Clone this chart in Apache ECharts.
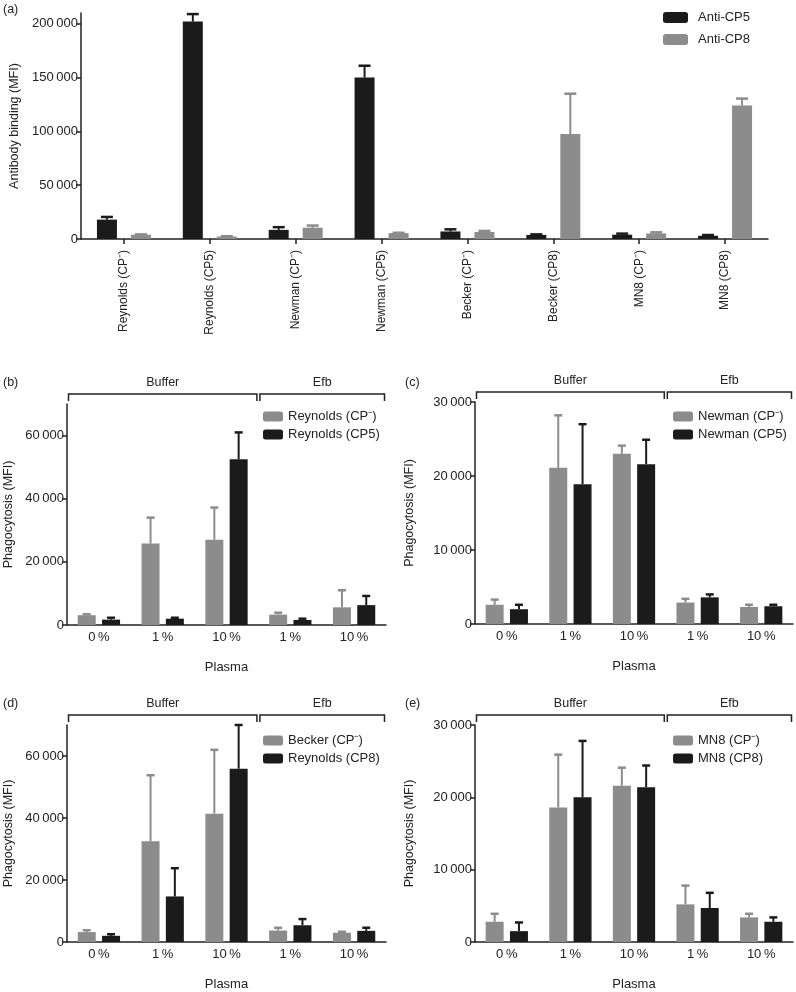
<!DOCTYPE html>
<html><head><meta charset="utf-8">
<script src="https://cdn.jsdelivr.net/npm/echarts@6/dist/echarts.min.js"></script>
<style>html,body{margin:0;padding:0;background:#fff}#c{width:796px;height:992px}</style>
</head><body><div id="c"></div>
<script>
// ---------- DATA ----------
const strainCats = ['Reynolds (CP\u207B)','Reynolds (CP5)','Newman (CP\u207B)','Newman (CP5)','Becker (CP\u207B)','Becker (CP8)','MN8 (CP\u207B)','MN8 (CP8)'];
const antiCP5    = [18000, 202000, 8500, 150000, 7000, 3800, 4000, 3000];
const antiCP5Err = [20500, 209000, 11000, 161000, 9000, 4300, 5000, 3700];
const antiCP8    = [4000, 2300, 10500, 5500, 6500, 97500, 5200, 124000];
const antiCP8Err = [4300, 2600, 12500, 5800, 7500, 135000, 6200, 130500];
const aTicks = [0, 50000, 100000, 150000, 200000];

const plasmaCats = ['0\u2009%','1\u2009%','10\u2009%','1\u2009%','10\u2009%'];
const groupNames = ['Buffer','Efb'];
const groupSpans = [[0,2],[3,4]];

const reynoldsCPneg    = [3100, 25800, 27000, 3300, 5600];
const reynoldsCPnegErr = [3400, 34000, 37200, 3900, 11000];
const reynoldsCP5      = [1700, 2000, 52500, 1600, 6300];
const reynoldsCP5Err   = [2300, 2300, 61000, 2000, 9200];
const bTicks = [0, 20000, 40000, 60000];

const newmanCPneg    = [2600, 21100, 23000, 2900, 2300];
const newmanCPnegErr = [3300, 28200, 24100, 3400, 2600];
const newmanCP5      = [2000, 18900, 21600, 3600, 2400];
const newmanCP5Err   = [2600, 27000, 24900, 4000, 2600];
const cTicks = [0, 10000, 20000, 30000];

const beckerCPneg    = [3200, 32500, 41400, 3700, 3000];
const beckerCPnegErr = [3800, 53800, 62000, 4600, 3300];
const reynoldsCP8    = [2000, 14700, 55900, 5400, 3600];
const reynoldsCP8Err = [2500, 23800, 70000, 7400, 4600];
const dTicks = [0, 20000, 40000, 60000];

const mn8CPneg    = [2800, 18600, 21600, 5200, 3400];
const mn8CPnegErr = [3900, 25900, 24100, 7800, 3900];
const mn8CP8      = [1500, 20000, 21400, 4700, 2800];
const mn8CP8Err   = [2700, 27800, 24400, 6800, 3400];
const eTicks = [0, 10000, 20000, 30000];

// ---------- STYLE ----------
const FONT = '"Liberation Sans", Arial, Helvetica, sans-serif';
const BLACK = '#1b1b1b', GRAY = '#8c8c8c', AXIS = '#222';

function fmt(v){ return v === 0 ? '0' : String(v).replace(/\B(?=(\d{3})+(?!\d))/g, '\u2009'); }

const chart = echarts.init(document.getElementById('c'), null, {renderer:'canvas'});

const grids = [
  {left:77, top:13, width:691, height:226},
  {left:67, top:404, width:319, height:221},
  {left:475, top:402, width:318, height:222},
  {left:67, top:725, width:319, height:222},
  {left:475, top:725, width:318, height:223}
];

function yAxis(gi, max, ticks, gap){
  return {type:'value', gridIndex:gi, min:0, max:max,
    name:(gi===0?'Antibody binding (MFI)':'Phagocytosis (MFI)'), nameLocation:'middle', nameGap:gap,
    nameTextStyle:{fontFamily:FONT, fontSize:12.5, color:'#222'},
    splitLine:{show:false},
    axisLine:{show:true, lineStyle:{color:AXIS, width:1.5}},
    axisTick:{show:true, length:5, lineStyle:{color:AXIS, width:1.5}, customValues:ticks},
    axisLabel:{fontFamily:FONT, fontSize:13, color:'#222', margin:3, customValues:ticks, formatter:fmt}
  };
}
function xAxisP(gi){
  return {type:'category', gridIndex:gi, data:plasmaCats,
    name:'Plasma', nameLocation:'middle', nameGap:36,
    nameTextStyle:{fontFamily:FONT, fontSize:13, color:'#222'},
    axisLine:{lineStyle:{color:AXIS, width:1.5}},
    axisTick:{show:false},
    axisLabel:{fontFamily:FONT, fontSize:13, color:'#222', margin:6}
  };
}

const xAxes = [
  {type:'category', gridIndex:0, data:strainCats,
   axisLine:{lineStyle:{color:AXIS, width:1.5}},
   axisTick:{show:true, alignWithLabel:true, length:5, lineStyle:{color:AXIS, width:1.5}},
   axisLabel:{fontFamily:FONT, fontSize:12, color:'#222', rotate:90, margin:11}},
  xAxisP(1), xAxisP(2), xAxisP(3), xAxisP(4)
];
const yAxes = [
  yAxis(0, 210000, aTicks, 60),
  yAxis(1, 70000, bTicks, 52),
  yAxis(2, 30000, cTicks, 59),
  yAxis(3, 70000, dTicks, 52),
  yAxis(4, 30000, eTicks, 59)
];

const series = [];
function barPair(gi, n1, v1, e1, c1, n2, v2, e2, c2, bw, gapFrac, capW){
  series.push({type:'bar', name:n1, xAxisIndex:gi, yAxisIndex:gi, data:v1, barWidth:bw, barGap:(gapFrac*100)+'%', itemStyle:{color:c1}});
  series.push({type:'bar', name:n2, xAxisIndex:gi, yAxisIndex:gi, data:v2, barWidth:bw, barGap:(gapFrac*100)+'%', itemStyle:{color:c2}});
  const half = bw*(1+gapFrac)/2;
  [[v1,e1,c1,-half],[v2,e2,c2,half]].forEach(function(s){
    series.push({type:'custom', xAxisIndex:gi, yAxisIndex:gi, clip:false, z:3,
      data:s[0].map(function(v,i){return [i, v, s[1][i]];}),
      encode:{x:0, y:[1,2]},
      renderItem:function(params, api){
        const i = api.value(0);
        const p0 = api.coord([i, api.value(1)]);
        const p1 = api.coord([i, api.value(2)]);
        const x = p0[0] + s[3];
        return {type:'group', children:[
          {type:'line', shape:{x1:x, y1:p0[1], x2:x, y2:p1[1]}, style:{stroke:s[2], lineWidth:2}},
          {type:'line', shape:{x1:x-capW/2, y1:p1[1], x2:x+capW/2, y2:p1[1]}, style:{stroke:s[2], lineWidth:2.5}}
        ]};
      }
    });
  });
}
function brackets(gi){
  series.push({type:'custom', xAxisIndex:gi, yAxisIndex:gi, clip:false, silent:true,
    data:groupSpans.map(function(g){return [g[0], g[1], 0];}),
    encode:{x:[0,1], y:2},
    renderItem:function(params, api){
      const cs = params.coordSys;
      const band = api.size([1,0])[0];
      const a = api.coord([api.value(0),0])[0] - band/2 + 1.5;
      const b = api.coord([api.value(1),0])[0] + band/2 - 1.5;
      const y = cs.y - 10;
      return {type:'group', children:[
        {type:'polyline', shape:{points:[[a,y+7],[a,y],[b,y],[b,y+7]]}, style:{stroke:AXIS, lineWidth:1.5, fill:null}},
        {type:'text', style:{x:(a+b)/2, y:cs.y-21, text:groupNames[params.dataIndex], align:'center', verticalAlign:'middle', fontFamily:FONT, fontSize:12.5, fill:'#222'}}
      ]};
    }
  });
}

barPair(0, 'Anti-CP5', antiCP5, antiCP5Err, BLACK, 'Anti-CP8', antiCP8, antiCP8Err, GRAY, 20, 0.7, 12);
barPair(1, 'Reynolds (CP\u207B)', reynoldsCPneg, reynoldsCPnegErr, GRAY, 'Reynolds (CP5)', reynoldsCP5, reynoldsCP5Err, BLACK, 18, 0.35, 8);
barPair(2, 'Newman (CP\u207B)', newmanCPneg, newmanCPnegErr, GRAY, 'Newman (CP5)', newmanCP5, newmanCP5Err, BLACK, 18, 0.35, 8);
barPair(3, 'Becker (CP\u207B)', beckerCPneg, beckerCPnegErr, GRAY, 'Reynolds (CP8)', reynoldsCP8, reynoldsCP8Err, BLACK, 18, 0.35, 8);
barPair(4, 'MN8 (CP\u207B)', mn8CPneg, mn8CPnegErr, GRAY, 'MN8 (CP8)', mn8CP8, mn8CP8Err, BLACK, 18, 0.35, 8);
[1,2,3,4].forEach(brackets);

function legend(names, left, top, w, h, gap, padLeft){
  return {orient:'vertical', left:left, top:top, padding:0, itemWidth:w, itemHeight:h, itemGap:gap,
    icon:'roundRect', data:names, selectedMode:false,
    textStyle:{fontFamily:FONT, fontSize:13, color:'#222', padding:[0,0,0,padLeft]}};
}

const titles = [['(a)',3,3],['(b)',3,376],['(c)',405,376],['(d)',3,697],['(e)',405,697]].map(function(t){
  return {text:t[0], left:t[1], top:t[2], padding:0, textStyle:{fontFamily:FONT, fontSize:12.5, fontWeight:'normal', color:'#222'}};
});

chart.setOption({
  animation:false,
  backgroundColor:'#fff',
  title:titles,
  grid:grids,
  xAxis:xAxes,
  yAxis:yAxes,
  legend:[
    legend(['Anti-CP5','Anti-CP8'], 663, 11, 25, 11, 9, 5),
    legend(['Reynolds (CP\u207B)','Reynolds (CP5)'], 263, 410, 20, 10, 5, 0),
    legend(['Newman (CP\u207B)','Newman (CP5)'], 673, 410, 20, 10, 5, 0),
    legend(['Becker (CP\u207B)','Reynolds (CP8)'], 263, 734, 20, 10, 5, 0),
    legend(['MN8 (CP\u207B)','MN8 (CP8)'], 673, 734, 20, 10, 5, 0)
  ],
  series:series
});
</script></body></html>
